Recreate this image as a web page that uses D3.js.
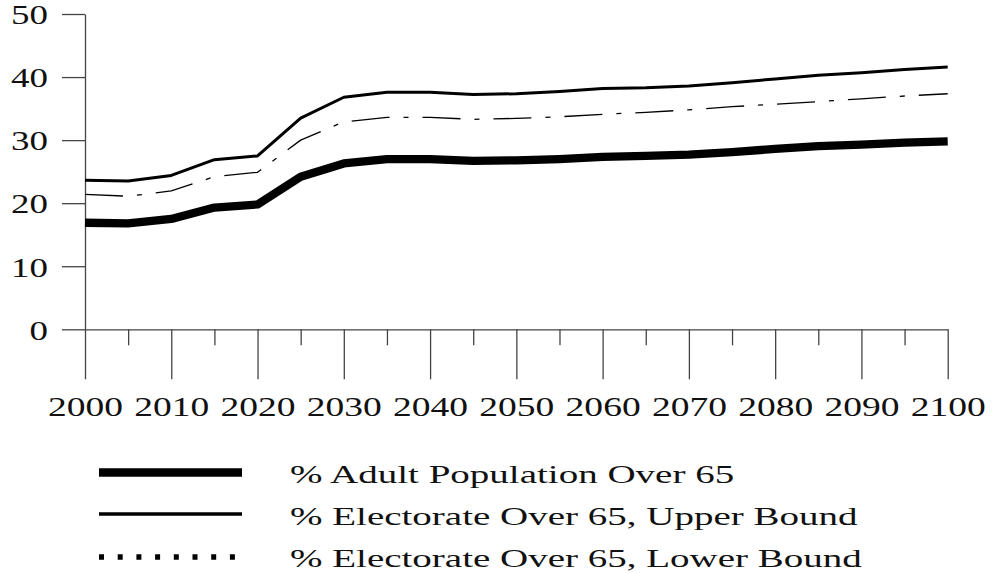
<!DOCTYPE html>
<html>
<head>
<meta charset="utf-8">
<script src="https://cdn.jsdelivr.net/npm/d3@7/dist/d3.min.js"></script>
<style>
  html, body { margin: 0; padding: 0; background: #fff; }
  svg { display: block; }
  text { font-family: "Liberation Serif", "Times New Roman", serif; fill: #111; }
</style>
</head>
<body>
<svg id="chart" width="992" height="573"></svg>
<script>
// ---- data ----
const years = [2000, 2005, 2010, 2015, 2020, 2025, 2030, 2035, 2040, 2045, 2050,
               2055, 2060, 2065, 2070, 2075, 2080, 2085, 2090, 2095, 2100];
const adultOver65 = [16.9, 16.8, 17.5, 19.3, 19.8, 24.2, 26.3, 27.0, 27.0, 26.7, 26.8,
                     27.0, 27.35, 27.5, 27.7, 28.1, 28.6, 29.05, 29.3, 29.6, 29.8];
const electorateUpper = [23.65, 23.5, 24.4, 26.9, 27.5, 33.5, 36.8, 37.6, 37.6, 37.25, 37.35,
                         37.7, 38.2, 38.3, 38.6, 39.1, 39.7, 40.3, 40.7, 41.2, 41.6];
const electorateLower = [21.4, 21.1, 21.95, 24.2, 24.9, 30.0, 32.9, 33.6, 33.6, 33.3, 33.45,
                         33.7, 34.1, 34.4, 34.8, 35.3, 35.7, 36.1, 36.55, 37.0, 37.35];
const yTicks = [0, 10, 20, 30, 40, 50];
const xMajorTicks = [2000, 2010, 2020, 2030, 2040, 2050, 2060, 2070, 2080, 2090, 2100];
const xMinorTicks = [2005, 2015, 2025, 2035, 2045, 2055, 2065, 2075, 2085, 2095];
const seriesNames = ["% Adult Population Over 65",
                     "% Electorate Over 65, Upper Bound",
                     "% Electorate Over 65, Lower Bound"];

// ---- layout ----
const svg = d3.select("#chart");
svg.append("rect").attr("width", 992).attr("height", 573).attr("fill", "#fff");
const x = d3.scaleLinear().domain([2000, 2100]).range([85, 947.7]);
const y = d3.scaleLinear().domain([0, 50]).range([329.3, 14]);
const axisColor = "#444";

function stretch(sel, sx) {
  sel.each(function () {
    const len = this.getComputedTextLength();
    d3.select(this).attr("textLength", len * sx).attr("lengthAdjust", "spacingAndGlyphs");
  });
}

// y axis
const gy = svg.append("g").attr("transform", `translate(${x(2000)},0)`)
  .call(d3.axisLeft(y).tickValues(yTicks).tickSize(23).tickPadding(14).tickSizeOuter(0));
gy.select(".domain").attr("stroke", axisColor).attr("stroke-width", 1.3);
gy.selectAll(".tick line").attr("stroke", axisColor).attr("stroke-width", 1.3);
gy.selectAll("text").attr("font-size", 28).attr("font-family", null).attr("fill", "#111")
  .attr("dy", "0.35em");
stretch(gy.selectAll("text"), 1.32);

// x axis minor ticks
const gxMinor = svg.append("g").attr("transform", `translate(0,${y(0)})`)
  .call(d3.axisBottom(x).tickValues(xMinorTicks).tickSize(16).tickFormat("").tickSizeOuter(0));
gxMinor.select(".domain").remove();
gxMinor.selectAll(".tick line").attr("stroke", axisColor).attr("stroke-width", 1.3);

// x axis major ticks
const gx = svg.append("g").attr("transform", `translate(0,${y(0)})`)
  .call(d3.axisBottom(x).tickValues(xMajorTicks).tickSize(50).tickFormat(d3.format("d")).tickSizeOuter(0));
gx.select(".domain").attr("stroke", axisColor).attr("stroke-width", 1.3);
gx.selectAll(".tick line").attr("stroke", axisColor).attr("stroke-width", 1.3);
gx.selectAll("text").attr("font-size", 28).attr("font-family", null).attr("fill", "#111")
  .attr("y", 87).attr("dy", 0);
stretch(gx.selectAll("text"), 1.34);

// ---- lines ----
const line = d3.line().x(d => x(d[0])).y(d => y(d[1]));
const series = [
  { values: electorateLower, width: 1.3, dash: "38,14,5,14" },
  { values: electorateUpper, width: 3, dash: null },
  { values: adultOver65, width: 8.3, dash: null }
];
series.forEach(s => {
  svg.append("path")
    .datum(years.map((yr, i) => [yr, s.values[i]]))
    .attr("d", line)
    .attr("fill", "none")
    .attr("stroke", "#000")
    .attr("stroke-width", s.width)
    .attr("stroke-dasharray", s.dash)
    .attr("stroke-linejoin", "round");
});

// ---- legend ----
const legend = [
  { name: seriesNames[0], ly: 472.5, width: 8.5, dash: null, ty: 483 },
  { name: seriesNames[1], ly: 514, width: 3.5, dash: null, ty: 525 },
  { name: seriesNames[2], ly: 557, width: 5.5, dash: "5,13.7", ty: 567 }
];
const lg = svg.append("g");
legend.forEach(l => {
  lg.append("line").attr("x1", 99).attr("x2", 242).attr("y1", l.ly).attr("y2", l.ly)
    .attr("stroke", "#000").attr("stroke-width", l.width).attr("stroke-dasharray", l.dash);
  lg.append("text").attr("x", 290).attr("y", l.ty).attr("font-size", 26).text(l.name);
});
stretch(lg.selectAll("text"), 1.5);
</script>
</body>
</html>
